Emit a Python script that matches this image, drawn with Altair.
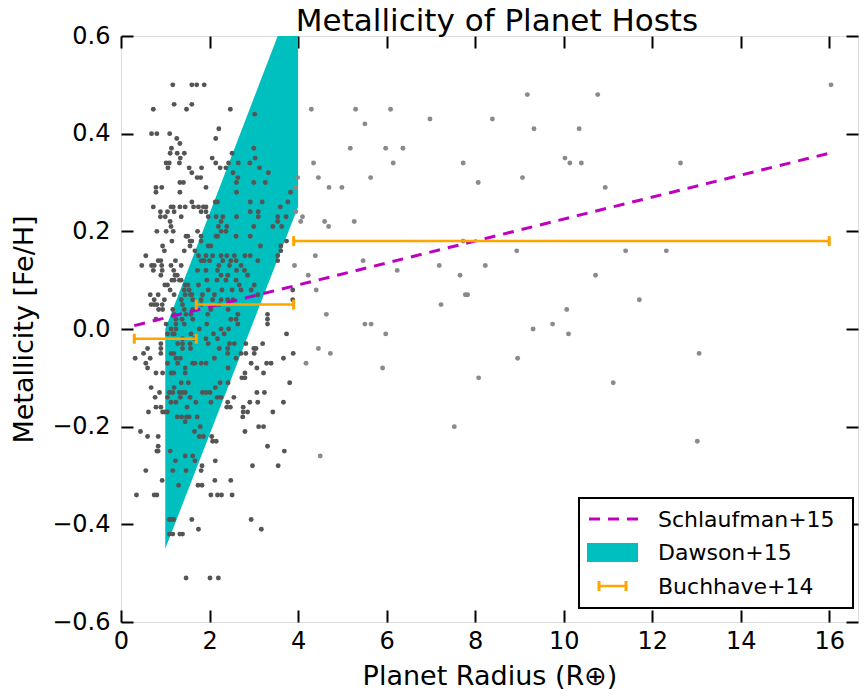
import altair as alt
import pandas as pd

# ---------------- data ----------------
feh_rows = [0.50, 0.48, 0.46, 0.45, 0.44, 0.43, 0.42, 0.41, 0.40, 0.39,
            0.38, 0.37, 0.36, 0.35, 0.34, 0.33, 0.32, 0.31, 0.30, 0.29,
            0.28, 0.26, 0.25, 0.24, 0.23, 0.22, 0.21, 0.20, 0.19, 0.18,
            0.17, 0.16, 0.15, 0.14, 0.13, 0.12, 0.11, 0.10, 0.09, 0.08,
            0.07, 0.06, 0.05, 0.04, 0.03, 0.02, 0.01, 0.00, -0.01, -0.02,
            -0.03, -0.04, -0.05, -0.06, -0.07, -0.08, -0.09, -0.10, -0.11, -0.12,
            -0.13, -0.14, -0.15, -0.16, -0.17, -0.18, -0.19, -0.20, -0.21, -0.22,
            -0.23, -0.24, -0.25, -0.26, -0.27, -0.28, -0.29, -0.31, -0.32, -0.34,
            -0.39, -0.41, -0.42, -0.51]

radius_rows = [
    [1.17, 1.60, 1.71, 1.88, 16.04],
    [9.18, 10.77],
    [1.20, 1.60],
    [0.73, 1.48, 2.47, 4.30, 5.30, 6.09],
    [3.02],
    [6.98, 8.39],
    [5.51],
    [2.21, 9.33, 10.35],
    [0.69, 0.81, 1.10],
    [1.26, 2.14],
    [1.33],
    [1.14, 3.00, 5.18, 5.98, 6.37],
    [1.11, 1.27, 1.43, 2.51],
    [1.34, 2.06, 3.03, 10.03],
    [1.02, 1.09, 1.32, 2.14, 2.43, 2.65, 2.91, 4.35, 6.15, 7.73, 10.14, 10.40, 12.64],
    [1.06, 1.54, 1.82, 2.24, 2.37, 3.13],
    [1.60, 2.53, 3.33],
    [1.72, 1.80, 2.64, 3.99, 4.46, 5.64, 9.07],
    [1.33, 1.41, 2.61, 3.00, 3.26, 8.07],
    [0.79, 0.92, 1.92, 3.95, 4.70, 4.99, 10.94],
    [0.79, 1.33, 2.61, 3.83],
    [1.60, 2.13, 2.18, 2.92, 3.19, 3.77],
    [0.73, 1.13, 1.18, 1.33, 1.45, 1.64, 1.75, 1.86, 1.92, 3.60],
    [0.89, 1.05, 1.20, 1.81, 1.92, 2.92, 3.10, 3.95],
    [0.89, 1.00, 1.36, 1.97, 2.15, 2.30, 2.61, 3.10, 3.54, 3.73, 4.10],
    [1.11, 2.26, 3.54, 4.06, 4.60, 5.27],
    [1.13, 2.20, 2.39, 3.00, 3.43, 3.63, 4.69],
    [0.81, 1.02, 1.18, 1.73, 2.26, 2.37],
    [1.47, 1.51, 1.81, 2.15, 2.18, 2.60, 2.92],
    [1.15, 1.56, 1.60, 1.81, 3.74, 7.73],
    [0.94, 1.56, 1.97, 2.03, 3.15, 3.61],
    [0.98, 1.43, 1.67, 3.61, 8.94, 11.40, 12.32],
    [0.56, 1.75, 1.92, 2.07, 2.26, 2.39, 2.56, 2.80, 2.92, 3.54, 4.39],
    [0.84, 0.90, 1.23, 1.81, 1.88, 2.00, 2.30, 2.48, 2.60, 3.09, 3.54, 5.47],
    [0.47, 0.69, 0.75, 0.92, 1.13, 1.36, 2.21, 2.45, 2.71, 3.92, 7.19, 8.23],
    [0.73, 0.93, 1.19, 1.73, 1.92, 2.18, 2.61, 2.79, 6.24],
    [0.90, 1.22, 1.27, 2.26, 2.41, 2.86, 4.23, 7.66, 10.72],
    [1.15, 1.20, 1.32, 1.36, 1.94, 2.17, 2.37, 2.60],
    [0.99, 1.05, 1.45, 1.51, 1.75, 2.67, 3.01],
    [1.11, 1.43, 1.54, 1.97, 2.28, 2.51, 2.71, 2.94, 3.88, 4.41],
    [0.66, 0.84, 1.20, 1.45, 1.57, 1.60, 1.84, 2.11, 3.09, 7.78, 7.83],
    [0.75, 0.98, 1.36, 1.62, 1.81, 2.07, 2.26, 2.41, 2.53, 3.88, 11.71],
    [0.68, 0.75, 0.81, 0.93, 1.39, 1.82, 2.22, 7.23],
    [0.85, 0.94, 1.17, 1.43, 1.62, 2.03, 2.42, 10.07],
    [1.20, 1.47, 1.58, 1.96, 2.64, 3.31, 4.64],
    [0.79, 1.24, 1.38, 1.62, 2.48, 2.60, 3.31],
    [1.02, 1.24, 1.43, 1.94, 2.64, 3.31, 5.51, 5.65, 9.75],
    [1.13, 1.24, 1.77, 2.26, 2.43, 9.31],
    [1.05, 1.17, 1.20, 1.58, 2.09, 2.33, 3.74, 5.98, 10.11],
    [1.39, 1.66, 1.92, 2.18],
    [0.90, 1.28, 1.39, 1.56, 1.97, 2.45, 2.56, 2.82, 3.20],
    [0.60, 0.90, 1.39, 1.57, 2.22, 2.41, 3.00, 3.05, 4.46],
    [0.51, 0.90, 1.13, 1.19, 2.41, 2.71, 2.82, 3.01, 3.89, 4.73, 13.06],
    [0.32, 0.66, 1.24, 1.34, 2.11, 2.60, 3.67, 8.96],
    [0.56, 1.05, 1.28, 1.62, 1.67, 1.81, 1.92, 2.94, 3.29, 3.39, 4.18],
    [0.60, 1.45, 2.42, 3.07, 5.91],
    [0.79, 0.94, 1.13, 1.19, 1.45, 2.80, 3.22],
    [2.73, 2.80, 8.08],
    [1.36, 1.52, 2.24, 2.42, 3.81, 11.12],
    [0.68, 1.20, 2.13],
    [0.87, 1.09, 1.17, 1.32, 1.39, 1.45, 1.84, 1.92, 2.01, 3.07, 3.24],
    [0.77, 1.05, 1.34, 1.56, 2.17, 2.26, 2.55],
    [1.13, 1.24, 1.69, 2.03, 2.41, 2.91, 3.09, 3.67],
    [0.79, 0.90, 1.49, 2.39, 2.47, 2.76],
    [0.62, 0.94, 0.99, 1.05, 2.76, 2.86, 3.43],
    [1.27, 1.37, 1.48, 1.54, 1.72, 2.75],
    [1.45],
    [1.79, 3.11, 3.22, 7.53],
    [0.44, 1.66, 2.80],
    [0.60, 0.84, 1.77, 1.86, 2.05],
    [2.07, 2.15, 13.02],
    [0.84, 3.31],
    [0.81, 0.84, 1.11, 3.69],
    [1.45, 1.62, 4.50],
    [1.23, 1.67, 2.13],
    [1.83, 2.97, 3.55],
    [0.56, 1.17, 1.47, 1.81],
    [0.93, 2.12, 2.48],
    [1.30, 1.74, 1.83],
    [0.35, 0.75, 0.81, 2.03, 2.18, 2.27, 2.51],
    [1.09, 1.14, 1.19, 1.60, 2.94],
    [1.75, 3.17],
    [1.09, 1.17, 1.33, 1.39],
    [1.47, 2.01, 2.20],
]

schlaufman_radius = [0.3, 16.0]
schlaufman_feh = [0.007, 0.36]

# visible outline of the Dawson+15 region (top edge cut at the axis limit)
dawson_radius = [1.0, 3.54, 4.0]
dawson_low = [-0.45, 0.143, 0.25]
dawson_high = [0.0, 0.6, 0.6]

buchhave_lo = [0.3, 1.7, 3.9]
buchhave_hi = [1.7, 3.9, 16.0]
buchhave_feh = [-0.02, 0.05, 0.18]

chart_title = "Metallicity of Planet Hosts"
legend_labels = ["Schlaufman+15", "Dawson+15", "Buchhave+14"]
x_ticks = [0, 2, 4, 6, 8, 10, 12, 14, 16]
y_ticks = [-0.6, -0.4, -0.2, 0.0, 0.2, 0.4, 0.6]

# ---------------- tables ----------------
pts = pd.DataFrame(
    [(r, f) for f, rs in zip(feh_rows, radius_rows) for r in rs],
    columns=["radius", "feh"],
)
schl = pd.DataFrame({"radius": schlaufman_radius, "feh": schlaufman_feh})
daw = pd.DataFrame({"radius": dawson_radius, "lo": dawson_low, "hi": dawson_high})
buch = pd.DataFrame({"lo": buchhave_lo, "hi": buchhave_hi, "feh": buchhave_feh})

FONT = "DejaVu Sans"
W, H = 737, 586
xs = alt.Scale(domain=[0, 16.65], nice=False, zero=False)
ys = alt.Scale(domain=[-0.6, 0.6], nice=False, zero=False)

main_x = alt.Axis(orient="bottom", values=x_ticks, format="d", ticks=False, domain=False,
                  grid=False, labelPadding=7, labelFontSize=24, labelFont=FONT,
                  labelColor="black", title="Planet Radius (R\u2295)", titleFont=FONT,
                  titleFontSize=27, titleFontWeight="normal", titleColor="black",
                  titlePadding=10, labelFlush=False)
main_y = alt.Axis(orient="left", values=y_ticks, format=".1f", ticks=False, domain=False,
                  grid=False, labelPadding=11, labelFontSize=24, labelFont=FONT,
                  labelColor="black", title="Metallicity [Fe/H]", titleFont=FONT,
                  titleFontSize=27, titleFontWeight="normal", titleColor="black",
                  titlePadding=13, labelFlush=False)


def tick_axis(orient, vals):
    return alt.Axis(orient=orient, values=vals, labels=False, domain=False, grid=False,
                    ticks=True, tickSize=12, tickWidth=2, tickColor="black",
                    offset=-12, title=None)


area = alt.Chart(daw).mark_area(color="#00BFBF", opacity=1).encode(
    x=alt.X("radius:Q", scale=xs, axis=main_x),
    y=alt.Y("lo:Q", scale=ys, axis=main_y),
    y2="hi:Q",
)

points = alt.Chart(pts).mark_circle(size=24, opacity=1).encode(
    x=alt.X("radius:Q", scale=xs, axis=tick_axis("top", x_ticks)),
    y=alt.Y("feh:Q", scale=ys, axis=tick_axis("right", y_ticks)),
    color=alt.when(alt.datum.radius < 3.9).then(alt.value("#555555")).otherwise(alt.value("#8a8a8a")),
)

line = alt.Chart(schl).mark_line(color="#BF00BF", strokeDash=[11, 8], strokeWidth=3).encode(
    x=alt.X("radius:Q", scale=xs, axis=tick_axis("bottom", x_ticks)),
    y=alt.Y("feh:Q", scale=ys, axis=tick_axis("left", y_ticks)),
)

bars = alt.Chart(buch).mark_rule(color="#FFA500", strokeWidth=2.5).encode(
    x=alt.X("lo:Q", scale=xs, axis=None),
    x2="hi:Q",
    y=alt.Y("feh:Q", scale=ys, axis=None),
)
cap_lo = alt.Chart(buch).mark_rule(color="#FFA500", strokeWidth=3, yOffset=-5, y2Offset=5).encode(
    x=alt.X("lo:Q", scale=xs, axis=None),
    y=alt.Y("feh:Q", scale=ys, axis=None),
    y2="feh:Q",
)
cap_hi = alt.Chart(buch).mark_rule(color="#FFA500", strokeWidth=3, yOffset=-5, y2Offset=5).encode(
    x=alt.X("hi:Q", scale=xs, axis=None),
    y=alt.Y("feh:Q", scale=ys, axis=None),
    y2="feh:Q",
)

# ---------------- title and legend (drawn) ----------------
title_mark = alt.Chart(pd.DataFrame({"t": [chart_title]})).mark_text(
    align="center", baseline="alphabetic", fontSize=31, font=FONT, color="black"
).encode(x=alt.value(376), y=alt.value(-5), text="t:N")

one = pd.DataFrame({"k": [0]})
lx0, lx1, ly0, ly1 = 458, 732, 462, 572
box = alt.Chart(one).mark_rect(fill="white", stroke="black", strokeWidth=2).encode(
    x=alt.value(lx0), x2=alt.value(lx1), y=alt.value(ly0), y2=alt.value(ly1))
leg_line = alt.Chart(one).mark_rule(color="#BF00BF", strokeDash=[11, 8], strokeWidth=3).encode(
    x=alt.value(468), x2=alt.value(518), y=alt.value(483))
leg_rect = alt.Chart(one).mark_rect(color="#00BFBF").encode(
    x=alt.value(466), x2=alt.value(517), y=alt.value(507), y2=alt.value(526))
leg_bar = alt.Chart(one).mark_rule(color="#FFA500", strokeWidth=2.5).encode(
    x=alt.value(478), x2=alt.value(505), y=alt.value(550))
leg_cap1 = alt.Chart(one).mark_rule(color="#FFA500", strokeWidth=3).encode(
    x=alt.value(478), y=alt.value(545), y2=alt.value(555))
leg_cap2 = alt.Chart(one).mark_rule(color="#FFA500", strokeWidth=3).encode(
    x=alt.value(505), y=alt.value(545), y2=alt.value(555))
leg_texts = []
for lab, yy in zip(legend_labels, [484, 517, 551]):
    leg_texts.append(
        alt.Chart(pd.DataFrame({"label": [lab]})).mark_text(
            align="left", baseline="middle", fontSize=22, font=FONT, color="black"
        ).encode(x=alt.value(537), y=alt.value(yy), text="label:N")
    )

chart = alt.layer(
    area, points, line, bars, cap_lo, cap_hi,
    box, leg_line, leg_rect, leg_bar, leg_cap1, leg_cap2, *leg_texts, title_mark,
).resolve_axis(
    x="independent", y="independent"
).properties(
    width=W, height=H,
    padding={"left": 113, "top": 28, "right": 1, "bottom": 68},
    autosize=alt.AutoSizeParams(type="none"),
).configure_view(stroke="black", strokeWidth=2).configure(background="white")

chart.save("out.html", embed_options={"renderer": "svg", "actions": False})
